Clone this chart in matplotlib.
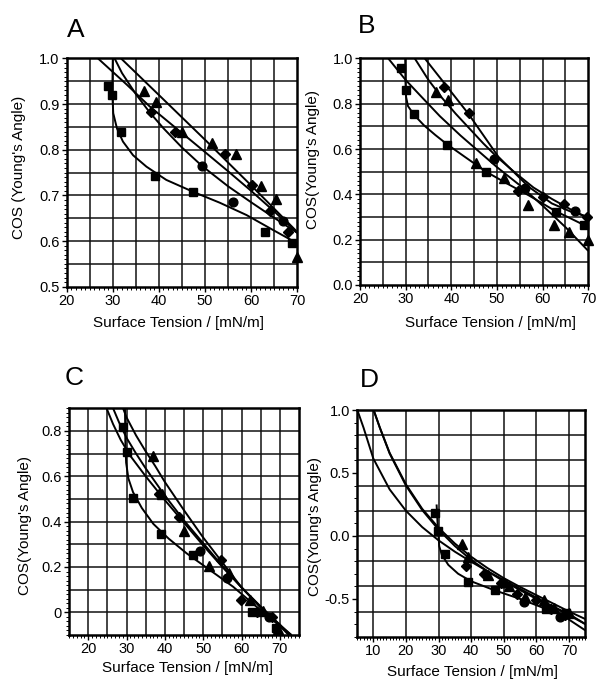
import numpy as np
import matplotlib
matplotlib.use("Agg")
import matplotlib.pyplot as plt
from matplotlib.ticker import MultipleLocator, FixedLocator

plt.rcParams['font.family'] = ['Liberation Sans', 'DejaVu Sans']

# ---------------- Panel A data ----------------
A_sq_x = [29.0, 29.9, 31.8, 39.1, 47.5, 63.0, 68.9]
A_sq_y = [0.940, 0.921, 0.839, 0.742, 0.708, 0.619, 0.596]
A_ci_x = [49.3, 56.1, 67.0]
A_ci_y = [0.764, 0.685, 0.645]
A_tr_x = [36.8, 39.3, 45.1, 51.5, 56.7, 62.2, 65.5, 69.9]
A_tr_y = [0.929, 0.905, 0.839, 0.814, 0.790, 0.720, 0.692, 0.566]
A_di_x = [38.3, 43.6, 54.4, 60.1, 64.1, 68.0]
A_di_y = [0.883, 0.839, 0.790, 0.723, 0.665, 0.620]
# fitted curves
A_csq_x = [30.0, 29.9, 30.1, 30.9, 32.2, 34.4, 37.3, 41.6, 47.4, 53.2, 59.0, 64.8, 70.0]
A_csq_y = [1.0, 0.923, 0.880, 0.847, 0.818, 0.788, 0.763, 0.734, 0.708, 0.684, 0.657, 0.624, 0.595]
A_cci_x = [30.4, 32.0, 35.0, 38.0, 41.0, 45.0, 49.3, 55.0, 60.0, 65.0, 70.0]
A_cci_y = [1.0, 0.968, 0.922, 0.882, 0.847, 0.805, 0.765, 0.720, 0.685, 0.651, 0.618]
A_ctr_x = [31.8, 40.0, 50.0, 60.0, 70.0]
A_ctr_y = [1.0, 0.920, 0.822, 0.722, 0.620]
A_cdi_x = [26.8, 33.0, 38.0, 44.0, 50.0, 55.0, 60.0, 65.0, 70.0]
A_cdi_y = [1.0, 0.943, 0.895, 0.845, 0.795, 0.753, 0.710, 0.665, 0.618]

# ---------------- Panel B data ----------------
B_sq_x = [29.05, 30.1, 31.8, 39.05, 47.6, 62.9, 69.0]
B_sq_y = [0.956, 0.860, 0.753, 0.618, 0.500, 0.321, 0.265]
B_ci_x = [49.3, 56.2, 67.0]
B_ci_y = [0.554, 0.426, 0.328]
B_tr_x = [36.7, 39.3, 45.4, 51.6, 56.8, 62.5, 65.7, 69.9]
B_tr_y = [0.853, 0.816, 0.540, 0.471, 0.353, 0.265, 0.235, 0.199]
B_di_x = [38.3, 43.8, 54.6, 60.0, 64.6, 69.7]
B_di_y = [0.872, 0.760, 0.416, 0.390, 0.357, 0.301]
B_csq_x = [29.9, 29.95, 30.1, 30.5, 31.8, 34.0, 36.5, 39.0, 43.0, 47.6, 52.0, 57.0, 62.9, 66.0, 70.0]
B_csq_y = [1.0, 0.90, 0.83, 0.79, 0.752, 0.705, 0.662, 0.622, 0.565, 0.50, 0.45, 0.395, 0.325, 0.295, 0.255]
B_ctr_x = [26.2, 30.0, 33.5, 37.5, 42.0, 46.0, 50.0, 55.0, 60.0, 65.0, 70.0]
B_ctr_y = [1.0, 0.905, 0.830, 0.745, 0.660, 0.590, 0.520, 0.440, 0.350, 0.255, 0.150]
B_cci_x = [32.0, 35.0, 38.0, 41.0, 44.0, 47.0, 50.0, 54.0, 58.0, 62.0, 66.0, 70.0]
B_cci_y = [1.0, 0.905, 0.825, 0.755, 0.690, 0.625, 0.565, 0.495, 0.430, 0.380, 0.335, 0.295]
B_cdi_x = [34.2, 38.3, 43.7, 50.3, 56.9, 62.0, 66.0, 70.0]
B_cdi_y = [1.0, 0.895, 0.757, 0.566, 0.434, 0.360, 0.325, 0.300]

# ---------------- Panel C data ----------------
C_sq_x = [29.0, 30.0, 31.7, 39.0, 47.4, 62.8, 69.0]
C_sq_y = [0.816, 0.706, 0.503, 0.344, 0.253, 0.0, -0.068]
C_ci_x = [49.3, 56.1, 67.1]
C_ci_y = [0.270, 0.150, -0.019]
C_tr_x = [36.8, 39.3, 45.1, 51.5, 56.7, 62.2, 65.5, 69.6]
C_tr_y = [0.690, 0.520, 0.360, 0.205, 0.175, 0.055, 0.005, -0.075]
C_di_x = [38.6, 43.65, 54.6, 59.8, 64.1, 68.0]
C_di_y = [0.520, 0.419, 0.231, 0.054, 0.0, -0.020]
C_csq_x = [29.6, 29.7, 29.9, 30.5, 31.7, 34.0, 37.0, 41.0, 45.7, 51.7, 57.8, 63.9, 70.0, 72.3]
C_csq_y = [0.9, 0.75, 0.66, 0.59, 0.53, 0.46, 0.39, 0.325, 0.26, 0.187, 0.113, 0.025, -0.06, -0.1]
C_ctr_x = [29.1, 30.0, 32.5, 35.0, 37.5, 40.0, 45.0, 50.0, 55.0, 60.0, 65.0, 70.0, 73.0]
C_ctr_y = [0.9, 0.86, 0.78, 0.71, 0.645, 0.575, 0.45, 0.33, 0.22, 0.11, 0.02, -0.06, -0.1]
C_cdi_x = [26.5, 28.0, 30.0, 32.5, 35.0, 40.0, 45.0, 50.0, 55.0, 60.0, 65.0, 70.0, 73.0]
C_cdi_y = [0.9, 0.84, 0.77, 0.70, 0.635, 0.515, 0.405, 0.305, 0.205, 0.11, 0.025, -0.055, -0.1]
C_cci_x = [24.8, 26.5, 28.5, 31.0, 35.0, 40.0, 45.0, 50.0, 55.0, 60.0, 65.0, 70.0, 72.7]
C_cci_y = [0.9, 0.83, 0.76, 0.69, 0.60, 0.495, 0.395, 0.295, 0.20, 0.11, 0.025, -0.055, -0.1]

# ---------------- Panel D data ----------------
D_sq_x = [29.0, 29.9, 31.95, 38.9, 47.4, 63.0, 69.0]
D_sq_y = [0.183, 0.040, -0.140, -0.366, -0.432, -0.580, -0.610]
D_ci_x = [49.7, 56.2, 67.1]
D_ci_y = [-0.374, -0.525, -0.640]
D_tr_x = [37.1, 39.1, 45.1, 51.5, 56.4, 62.3, 65.5, 69.9]
D_tr_y = [-0.066, -0.167, -0.310, -0.400, -0.485, -0.507, -0.570, -0.610]
D_di_x = [38.4, 43.8, 49.0, 54.0, 60.0, 64.6, 68.7]
D_di_y = [-0.239, -0.305, -0.370, -0.460, -0.506, -0.578, -0.630]
D_ctr_x = [10.1, 12.0, 15.0, 20.0, 25.0, 30.0, 35.0, 40.0, 45.0, 50.0, 55.0, 60.0, 65.0, 70.0, 75.0]
D_ctr_y = [1.0, 0.86, 0.66, 0.41, 0.215, 0.065, -0.06, -0.165, -0.255, -0.335, -0.405, -0.47, -0.535, -0.60, -0.66]
D_cdi_x = [10.1, 12.0, 15.0, 20.0, 25.0, 30.0, 35.0, 40.0, 45.0, 50.0, 55.0, 60.0, 65.0, 70.0, 75.0]
D_cdi_y = [1.0, 0.86, 0.655, 0.40, 0.205, 0.05, -0.08, -0.19, -0.28, -0.36, -0.43, -0.50, -0.56, -0.62, -0.70]
D_cci_x = [5.1, 7.0, 10.0, 15.0, 20.0, 25.0, 30.0, 35.0, 40.0, 45.0, 50.0, 55.0, 60.0, 65.0, 70.0, 75.0]
D_cci_y = [1.0, 0.86, 0.615, 0.37, 0.20, 0.07, -0.035, -0.125, -0.205, -0.28, -0.35, -0.42, -0.49, -0.56, -0.63, -0.70]
D_csq_x = [29.4, 29.7, 30.0, 30.2, 31.0, 33.0, 36.0, 40.0, 47.0, 55.0, 62.0, 68.0, 75.0]
D_csq_y = [0.25, 0.10, 0.0, -0.08, -0.15, -0.23, -0.30, -0.36, -0.43, -0.50, -0.57, -0.63, -0.75]

fig = plt.figure(figsize=(5.98, 6.8), dpi=100)

TICK_FS = 10.5
LAB_FS = 11


def panel(rect, xlim, ylim, xgrid, ygrid, xticks, yticks, yticklabels, yminor, xminor,
          pts, curves, ylabel, xlab_pos, ylab_pos):
    ax = fig.add_axes(rect)
    ax.set_xlim(*xlim)
    ax.set_ylim(*ylim)
    for gx in xgrid:
        ax.axvline(gx, color='#111111', lw=1.1, zorder=1)
    for gy in ygrid:
        ax.axhline(gy, color='#111111', lw=1.1, zorder=1)
    for (cx, cy) in curves:
        ax.plot(cx, cy, color='black', lw=1.4, zorder=3, solid_capstyle='butt')
    for (px, py, m, s) in pts:
        ax.plot(px, py, ls='none', marker=m, color='black', ms=s, zorder=4, clip_on=False)
    ax.xaxis.set_major_locator(FixedLocator(xticks))
    ax.yaxis.set_major_locator(FixedLocator(yticks))
    ax.set_yticklabels(yticklabels)
    ax.xaxis.set_minor_locator(MultipleLocator(xminor))
    ax.yaxis.set_minor_locator(MultipleLocator(yminor))
    ax.tick_params(which='major', direction='out', length=3.5, width=1.0, labelsize=TICK_FS,
                   pad=1.5, top=False, right=False)
    ax.tick_params(which='minor', direction='out', length=2.0, width=0.7,
                   top=False, right=False)
    for sp in ax.spines.values():
        sp.set_linewidth(1.8)
        sp.set_zorder(5)
    ax.set_xlabel('Surface Tension / [mN/m]', fontsize=LAB_FS)
    ax.set_ylabel(ylabel, fontsize=LAB_FS)
    ax.xaxis.set_label_coords(*xlab_pos)
    ax.xaxis.label.set_va('center')
    ax.yaxis.set_label_coords(*ylab_pos)
    ax.yaxis.label.set_va('center')
    return ax

S_SQ, S_CI, S_TR, S_DI = 6.3, 6.3, 6.8, 4.8

# Panel A
panel([0.1115, 0.5784, 0.3855, 0.3356], (20, 70), (0.5, 1.0),
      np.arange(25, 70, 5), np.arange(0.55, 1.0, 0.05),
      [20, 30, 40, 50, 60, 70], [0.5, 0.6, 0.7, 0.8, 0.9, 1.0],
      ['0.5', '0.6', '0.7', '0.8', '0.9', '1.0'], 0.01, 1,
      [(A_sq_x, A_sq_y, 's', S_SQ), (A_ci_x, A_ci_y, 'o', S_CI),
       (A_tr_x, A_tr_y, '^', S_TR), (A_di_x, A_di_y, 'D', S_DI)],
      [(A_csq_x, A_csq_y), (A_cci_x, A_cci_y), (A_ctr_x, A_ctr_y), (A_cdi_x, A_cdi_y)],
      "COS (Young's Angle)", (0.483, -0.16), (-0.208, 0.522))

# Panel B
panel([0.602, 0.581, 0.3818, 0.333], (20, 70), (0.0, 1.0),
      np.arange(25, 70, 5), np.arange(0.1, 1.0, 0.1),
      [20, 30, 40, 50, 60, 70], [0.0, 0.2, 0.4, 0.6, 0.8, 1.0],
      ['0.0', '0.2', '0.4', '0.6', '0.8', '1.0'], 0.02, 1,
      [(B_sq_x, B_sq_y, 's', S_SQ), (B_ci_x, B_ci_y, 'o', S_CI),
       (B_tr_x, B_tr_y, '^', S_TR), (B_di_x, B_di_y, 'D', S_DI)],
      [(B_csq_x, B_csq_y), (B_ctr_x, B_ctr_y), (B_cci_x, B_cci_y), (B_cdi_x, B_cdi_y)],
      "COS(Young's Angle)", (0.572, -0.168), (-0.206, 0.556))

# Panel C
panel([0.1154, 0.0662, 0.3846, 0.3334], (15, 75), (-0.1, 0.9),
      np.arange(20, 75, 5), np.arange(0.0, 0.9, 0.1),
      [20, 30, 40, 50, 60, 70], [0.0, 0.2, 0.4, 0.6, 0.8],
      ['0', '0.2', '0.4', '0.6', '0.8'], 0.02, 1,
      [(C_sq_x, C_sq_y, 's', S_SQ), (C_ci_x, C_ci_y, 'o', S_CI),
       (C_tr_x, C_tr_y, '^', S_TR), (C_di_x, C_di_y, 'D', S_DI)],
      [(C_csq_x, C_csq_y), (C_ctr_x, C_ctr_y), (C_cdi_x, C_cdi_y), (C_cci_x, C_cci_y)],
      "COS(Young's Angle)", (0.515, -0.147), (-0.19, 0.485))

# Panel D
panel([0.597, 0.0637, 0.3818, 0.3333], (5, 75), (-0.8, 1.0),
      np.arange(10, 75, 10), np.arange(-0.6, 0.9, 0.2),
      [10, 20, 30, 40, 50, 60, 70], [-0.5, 0.0, 0.5, 1.0],
      ['-0.5', '0.0', '0.5', '1.0'], 0.1, 1,
      [(D_sq_x, D_sq_y, 's', S_SQ), (D_ci_x, D_ci_y, 'o', S_CI),
       (D_tr_x, D_tr_y, '^', S_TR), (D_di_x, D_di_y, 'D', S_DI)],
      [(D_ctr_x, D_ctr_y), (D_cdi_x, D_cdi_y), (D_cci_x, D_cci_y), (D_csq_x, D_csq_y)],
      "COS(Young's Angle)", (0.508, -0.154), (-0.184, 0.485))

# Panel letters
fig.text(0.112, 0.946, 'A', fontsize=19, va='baseline', ha='left')
fig.text(0.5987, 0.951, 'B', fontsize=19, va='baseline', ha='left')
fig.text(0.1087, 0.434, 'C', fontsize=19, va='baseline', ha='left')
fig.text(0.6015, 0.4313, 'D', fontsize=19, va='baseline', ha='left')

fig.savefig('out.png', dpi=100)
